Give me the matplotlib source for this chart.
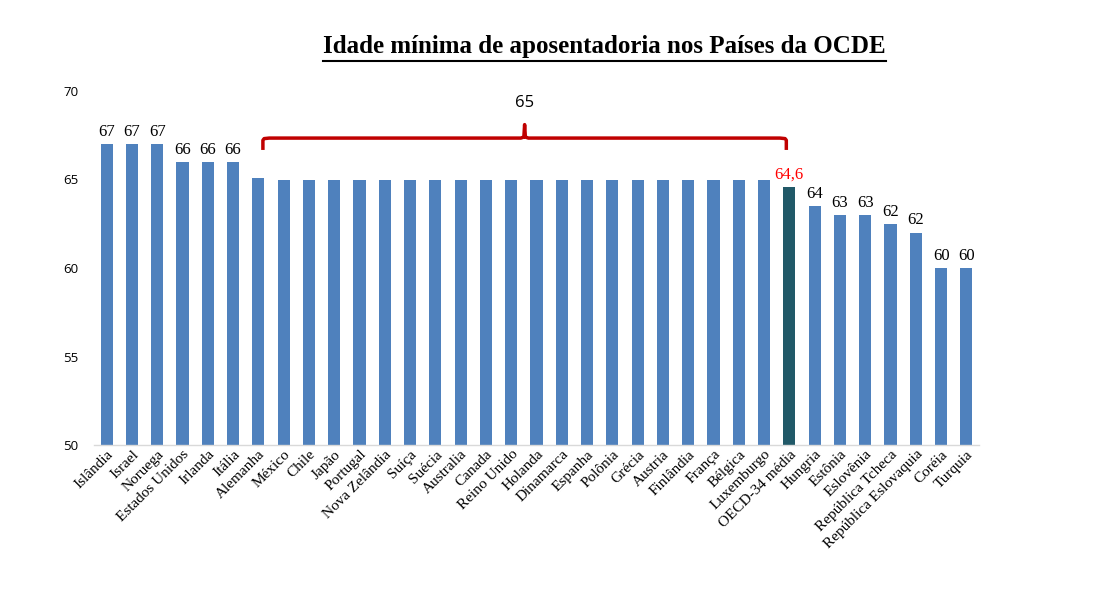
import matplotlib
matplotlib.use("Agg")
import matplotlib.pyplot as plt
from matplotlib.lines import Line2D
import numpy as np

countries = ["Islândia", "Israel", "Noruega", "Estados Unidos", "Irlanda", "Itália",
             "Alemanha", "México", "Chile", "Japão", "Portugal", "Nova Zelândia",
             "Suíça", "Suécia", "Australia", "Canada", "Reino Unido", "Holanda",
             "Dinamarca", "Espanha", "Polônia", "Grécia", "Austria", "Finlândia",
             "França", "Bélgica", "Luxemburgo", "OECD-34 média", "Hungria", "Estônia",
             "Eslovênia", "República Tcheca", "República Eslovaquia", "Coréia", "Turquia"]
values = [67, 67, 67, 66, 66, 66,
          65.1, 65, 65, 65, 65, 65,
          65, 65, 65, 65, 65, 65,
          65, 65, 65, 65, 65, 65,
          65, 65, 65, 64.6, 63.5, 63,
          63, 62.5, 62, 60, 60]
value_labels = ["67", "67", "67", "66", "66", "66",
                "", "", "", "", "", "",
                "", "", "", "", "", "",
                "", "", "", "", "", "",
                "", "", "", "64,6", "64", "63",
                "63", "62", "62", "60", "60"]
group_label = "65"
group_first, group_last = 6, 27
title = "Idade mínima de aposentadoria nos Países da OCDE"
yticks = [50, 55, 60, 65, 70]

W, H = 1105, 599
fig = plt.figure(figsize=(W / 100, H / 100), dpi=100)
ax = fig.add_axes([94 / W, 1 - 445 / H, (979 - 94) / W, (445 - 91) / H])

serif = "Liberation Serif"
x = np.arange(len(countries))
colors = ["#215968" if c.startswith("OECD") else "#4F81BD" for c in countries]
ax.bar(x, [v - 50 for v in values], bottom=50, width=0.48, color=colors,
       edgecolor="none")

ax.set_xlim(-0.5, len(countries) - 0.5)
ax.set_ylim(50, 70)
ax.set_yticks(yticks)
ax.set_yticklabels([str(t) for t in yticks], fontfamily="Open Sans", fontsize=9.5)
ax.tick_params(axis="y", length=0, pad=11)
ax.tick_params(axis="x", length=0, pad=2)
ax.set_xticks(x)
ax.set_xticklabels(countries, rotation=45, ha="right", va="top",
                   rotation_mode="anchor", fontfamily=serif, fontsize=11)
for s in ["top", "right", "left"]:
    ax.spines[s].set_visible(False)
ax.spines["bottom"].set_color("#D9D9D9")
ax.spines["bottom"].set_linewidth(1.0)

for xi, v, lab, c in zip(x, values, value_labels, countries):
    if lab:
        col = "#FF0000" if c.startswith("OECD") else "black"
        ax.annotate(lab, (xi, v), xytext=(0, 3), textcoords="offset points",
                    ha="center", va="bottom", fontfamily=serif, fontsize=12,
                    color=col)

# bracket over the group at 65
x0 = group_first + 0.18
x1 = group_last - 0.12
xm = (x0 + x1) / 2
yh, ye, yt = 67.34, 66.67, 68.1
red = "#C00000"
r = 0.25
bx = [x0, x0, x0 + 0.05, x0 + r, xm - 0.15, xm - 0.03, xm, xm + 0.03, xm + 0.15,
      x1 - r, x1 - 0.05, x1, x1]
by = [ye, yh - 0.12, yh - 0.03, yh, yh, yh + 0.06, yt, yh + 0.06, yh,
      yh, yh - 0.03, yh - 0.12, ye]
ax.plot(bx, by, color=red, lw=2.5, solid_capstyle="butt", clip_on=False)
ax.text(xm, 69.3, group_label, ha="center", va="center", fontsize=12,
        fontfamily="Open Sans", color="black")

t = fig.text(604.5 / W, 1 - 47 / H, title, ha="center", va="center",
             fontfamily=serif, fontweight="bold", fontsize=18)
fig.canvas.draw()
bb = t.get_window_extent(renderer=fig.canvas.get_renderer())
uy = (H - 61) / H
fig.add_artist(Line2D([bb.x0 / W, bb.x1 / W], [uy, uy], color="black", lw=1.5,
                      transform=fig.transFigure))

fig.savefig("out.png", dpi=100, facecolor="white")
